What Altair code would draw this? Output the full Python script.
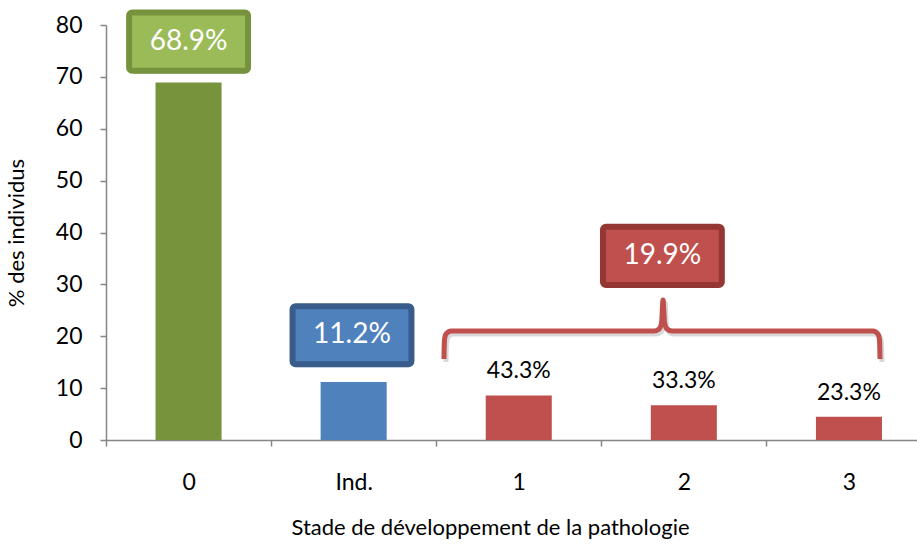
import altair as alt
import pandas as pd

# Share of individuals by disease development stage
stages = ["0", "Ind.", "1", "2", "3"]
values = [68.9, 11.2, 8.6, 6.7, 4.5]
bar_colors = ["#77933C", "#4F81BD", "#C0504D", "#C0504D", "#C0504D"]

# Within-group shares for the diseased stages 1-3
sub_stages = ["1", "2", "3"]
sub_values = [8.6, 6.7, 4.5]
sub_labels = ["43.3%", "33.3%", "23.3%"]

# Highlight boxes: centre on the stage index axis (0..5) and on the value axis
box_text = ["68.9%", "11.2%", "19.9%"]
box_u = [0.50, 1.49, 3.37]
box_v = [76.8, 20.2, 35.5]
box_fill = ["#9BBB59", "#4F81BD", "#C0504D"]
box_edge = ["#76923C", "#385D8A", "#943634"]
BOX_HW = 0.36   # half width, stage-index units
BOX_HH = 5.6    # half height, value units

# Brace grouping stages 1-3 (stage-index units, value units)
brace_u = [2.047, 2.050, 2.059, 2.090, 3.319, 3.350, 3.365, 3.374,
           3.383, 3.398, 3.428, 4.646, 4.676, 4.685, 4.688]
brace_v = [15.6, 19.3, 20.4, 21.0, 21.0, 21.4, 22.6, 27.0,
           22.6, 21.4, 21.0, 21.0, 20.4, 19.3, 15.6]

FONT = "Lato"
AXIS_GREY = "#868686"
SHADOW = "#7F7F7F"
X_RANGE = [0, 825.5]

bars_df = pd.DataFrame({"stage": stages, "value": values, "color": bar_colors})
sub_df = pd.DataFrame({"stage": sub_stages, "value": sub_values, "label": sub_labels})
box_df = pd.DataFrame({
    "text": box_text,
    "u": box_u,
    "v": box_v,
    "fill": box_fill,
    "edge": box_edge,
})
box_df["u0"] = box_df["u"] - BOX_HW
box_df["u1"] = box_df["u"] + BOX_HW
box_df["v0"] = box_df["v"] - BOX_HH
box_df["v1"] = box_df["v"] + BOX_HH
brace_df = pd.DataFrame({"u": brace_u, "v": brace_v, "order": range(len(brace_u))})

y_scale = alt.Scale(domain=[0, 80])
x_band = alt.Scale(domain=stages, range=X_RANGE, paddingInner=0, paddingOuter=0)
u_scale = alt.Scale(domain=[0, 5], range=X_RANGE)

bars = alt.Chart(bars_df).mark_bar(width=alt.RelativeBandSize(0.4)).encode(
    x=alt.X(
        "stage:N",
        sort=stages,
        scale=x_band,
        title="Stade de développement de la pathologie",
        axis=alt.Axis(
            labelAngle=0,
            tickBand="extent",
            tickSize=6,
            labelPadding=25,
            titlePadding=23,
            titleX=384,
            titleAnchor="start",
            titleAlign="center",
        ),
    ),
    y=alt.Y(
        "value:Q",
        scale=y_scale,
        title="% des individus",
        axis=alt.Axis(
            values=list(range(0, 81, 10)),
            tickSize=6,
            labelPadding=18,
            titlePadding=27,
        ),
    ),
    color=alt.Color("color:N", scale=None),
)

sub_text = alt.Chart(sub_df).mark_text(
    baseline="bottom", dy=-12, fontSize=23, font=FONT, color="black"
).encode(
    x=alt.X("stage:N", sort=stages, scale=x_band, axis=None),
    y=alt.Y("value:Q", scale=y_scale),
    text="label:N",
)

box_shadow = alt.Chart(box_df).mark_rect(
    cornerRadius=3, color=SHADOW, opacity=0.3, xOffset=2, yOffset=3
).encode(
    x=alt.X("u0:Q", scale=u_scale, axis=None),
    x2="u1:Q",
    y=alt.Y("v0:Q", scale=y_scale),
    y2="v1:Q",
)

boxes = alt.Chart(box_df).mark_rect(cornerRadius=3, strokeWidth=6).encode(
    x=alt.X("u0:Q", scale=u_scale, axis=None),
    x2="u1:Q",
    y=alt.Y("v0:Q", scale=y_scale),
    y2="v1:Q",
    fill=alt.Fill("fill:N", scale=None),
    stroke=alt.Stroke("edge:N", scale=None),
)

box_labels = alt.Chart(box_df).mark_text(
    fontSize=28, font=FONT, color="white", baseline="middle", align="center"
).encode(
    x=alt.X("u:Q", scale=u_scale, axis=None),
    y=alt.Y("v:Q", scale=y_scale),
    text="text:N",
)

brace_shadow = alt.Chart(brace_df).mark_line(
    color=SHADOW, strokeWidth=5, opacity=0.3, interpolate="monotone",
    xOffset=2, yOffset=3,
).encode(
    x=alt.X("u:Q", scale=u_scale, axis=None),
    y=alt.Y("v:Q", scale=y_scale),
    order="order:Q",
)

brace = alt.Chart(brace_df).mark_line(
    color="#C0504D", strokeWidth=5, interpolate="monotone"
).encode(
    x=alt.X("u:Q", scale=u_scale, axis=None),
    y=alt.Y("v:Q", scale=y_scale),
    order="order:Q",
)

chart = (
    alt.layer(bars, sub_text, brace_shadow, brace, box_shadow, boxes, box_labels)
    .resolve_scale(x="independent")
    .properties(
        width=811,
        height=415,
        autosize=alt.AutoSizeParams(type="none"),
        padding={"left": 106, "top": 25, "right": 0, "bottom": 104},
        background="white",
    )
    .configure_view(stroke=None)
    .configure_axis(
        grid=False,
        domainColor=AXIS_GREY,
        domainWidth=1.5,
        tickColor=AXIS_GREY,
        tickWidth=1.5,
        labelFont=FONT,
        labelFontSize=23,
        labelColor="black",
        titleFont=FONT,
        titleFontSize=22,
        titleFontWeight="normal",
        titleColor="black",
    )
)

chart.save("out.html", embed_options={"renderer": "svg", "actions": False})
